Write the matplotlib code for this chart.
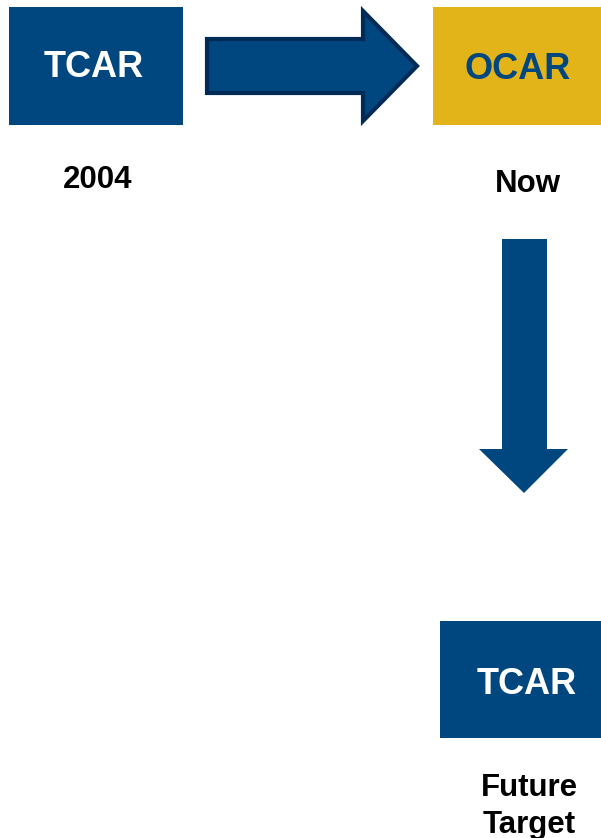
import matplotlib.pyplot as plt
from matplotlib.patches import Rectangle, Polygon

# labels for the three stages
box_labels = ["TCAR", "OCAR", "TCAR"]
captions = ["2004", "Now", "Future\nTarget"]

blue = "#00467F"
gold = "#E3B31A"
dark_edge = "#002B57"

plt.rcParams['font.family'] = ['Liberation Sans', 'DejaVu Sans']

fig = plt.figure(figsize=(6.01, 8.38), dpi=100)
ax = fig.add_axes([0, 0, 1, 1])
ax.set_xlim(0, 601)
ax.set_ylim(838, 0)
ax.axis('off')

# boxes: (x, y, w, h, fill, text colour)
boxes = [
    (9, 7, 174, 118, blue, "white"),
    (433, 7, 170, 118, gold, blue),
    (440, 621, 163, 117, blue, "white"),
]
# baselines of the label and caption text
text_pos = [(94, 77), (518, 79), (527, 694)]
cap_pos = [(98, 188), (528, 192), (529, 796)]

for i, (x, y, w, h, fc, tc) in enumerate(boxes):
    ax.add_patch(Rectangle((x, y), w, h, facecolor=fc, edgecolor='none'))
    ax.text(text_pos[i][0], text_pos[i][1], box_labels[i], color=tc,
            fontsize=26, fontweight='bold', ha='center', va='baseline')
    for j, line in enumerate(captions[i].split("\n")):
        ax.text(cap_pos[i][0], cap_pos[i][1] + 37 * j, line, color='black',
                fontsize=22.5, fontweight='bold', ha='center', va='baseline')

# right arrow
right_arrow = [(207, 39), (363, 39), (363, 11), (417, 66), (363, 121),
               (363, 93), (207, 93)]
ax.add_patch(Polygon(right_arrow, closed=True, facecolor=blue,
                     edgecolor=dark_edge, linewidth=3, joinstyle='miter'))

# down arrow
down_arrow = [(502, 239), (547, 239), (547, 449), (568, 449), (524, 493),
              (479, 449), (502, 449)]
ax.add_patch(Polygon(down_arrow, closed=True, facecolor=blue,
                     edgecolor='none'))

fig.savefig("out.png", dpi=100)
